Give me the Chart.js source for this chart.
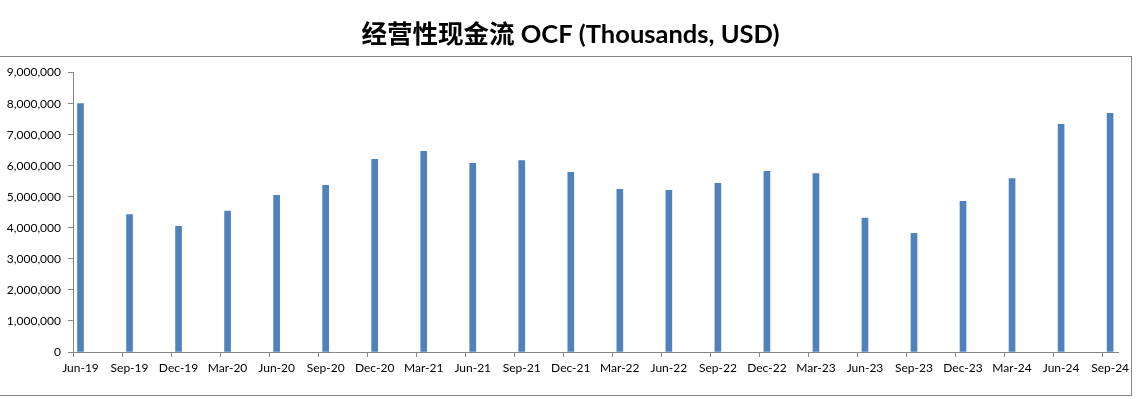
<!DOCTYPE html>
<html>
<head>
<meta charset="utf-8">
<script src="https://cdn.jsdelivr.net/npm/chart.js@4/dist/chart.umd.min.js"></script>
<style>
  html, body { margin: 0; padding: 0; background: #fff; }
  #wrap { position: relative; width: 1141px; height: 399px; }
</style>
</head>
<body>
<div id="wrap"><canvas id="ocf"></canvas></div>
<script>
// ---- data ------------------------------------------------------------------
const QUARTERS = [
  'Jun-19', 'Sep-19', 'Dec-19', 'Mar-20', 'Jun-20', 'Sep-20', 'Dec-20', 'Mar-21',
  'Jun-21', 'Sep-21', 'Dec-21', 'Mar-22', 'Jun-22', 'Sep-22', 'Dec-22', 'Mar-23',
  'Jun-23', 'Sep-23', 'Dec-23', 'Mar-24', 'Jun-24', 'Sep-24',
];
// operating cash flow, thousands USD
const OCF = [
  8000000, 4430000, 4050000, 4540000, 5050000, 5370000, 6210000, 6460000,
  6080000, 6170000, 5790000, 5240000, 5210000, 5430000, 5820000, 5750000,
  4310000, 3820000, 4850000, 5590000, 7330000, 7690000,
];
const Y_TICKS = [0, 1000000, 2000000, 3000000, 4000000, 5000000, 6000000, 7000000, 8000000, 9000000];

// ---- style -----------------------------------------------------------------
const BAR_BLUE  = '#4F81BD';
const AXIS_GREY = '#868686';
const FONT = 'Lato, "Open Sans", "Noto Sans CJK SC", sans-serif';
const BAR_SHIFT = 0.153;   // bars sit a little right of their quarter tick (date axis)

// grey frame around the plot block, left edge runs off the picture
const framePlugin = {
  id: 'frame',
  afterDraw(chart) {
    const c = chart.ctx;
    c.save();
    c.strokeStyle = AXIS_GREY;
    c.lineWidth = 1;
    c.strokeRect(-2, 56.5, 1133.5, 339);
    c.restore();
  },
};

const ctx = document.getElementById('ocf').getContext('2d');
new Chart(ctx, {
  type: 'bar',
  data: {
    datasets: [{
      data: OCF.map((v, i) => ({ x: i + BAR_SHIFT, y: v })),
      backgroundColor: BAR_BLUE,
      borderWidth: 0,
      barThickness: 6,
    }],
  },
  plugins: [framePlugin],
  options: {
    animation: false,
    responsive: true,
    maintainAspectRatio: false,
    layout: { padding: 0 },
    plugins: {
      legend: { display: false },
      tooltip: { enabled: false },
      title: {
        display: true,
        text: '经营性现金流 OCF (Thousands, USD)',
        color: '#000',
        font: { family: FONT, size: 25.5, weight: 'bold', lineHeight: 1.2 },
        padding: { top: 19, bottom: 23 },
      },
    },
    scales: {
      x: {
        type: 'linear',
        offset: false,
        min: 0,
        max: QUARTERS.length - 1 + 0.32,
        afterBuildTicks(scale) {
          scale.ticks = QUARTERS.map((_, i) => ({ value: i }));
        },
        afterFit(scale) { scale.height = 47; },
        grid: { offset: false, drawOnChartArea: false, color: AXIS_GREY, tickLength: 5 },
        border: { color: AXIS_GREY, width: 1 },
        ticks: {
          autoSkip: false,
          maxRotation: 0,
          padding: 4,
          labelOffset: 7.5,
          color: '#000',
          font: { family: FONT, size: 12 },
          callback: (v) => QUARTERS[v],
        },
      },
      y: {
        min: 0,
        max: 9000000,
        afterBuildTicks(scale) {
          scale.ticks = Y_TICKS.map(v => ({ value: v }));
        },
        afterFit(scale) { scale.width = 73; },
        grid: { drawOnChartArea: false, color: AXIS_GREY, tickLength: 5 },
        border: { color: AXIS_GREY, width: 1 },
        ticks: {
          padding: 7,
          color: '#000',
          font: { family: FONT, size: 12 },
          callback: (v) => v.toLocaleString('en-US'),
        },
      },
      // empty right-hand gutter so the plot stops short of the frame
      gutter: {
        type: 'linear',
        position: 'right',
        afterFit(scale) { scale.width = 22.7; },
        grid: { display: false },
        border: { display: false },
        ticks: { display: false },
      },
    },
  },
});
</script>
</body>
</html>
